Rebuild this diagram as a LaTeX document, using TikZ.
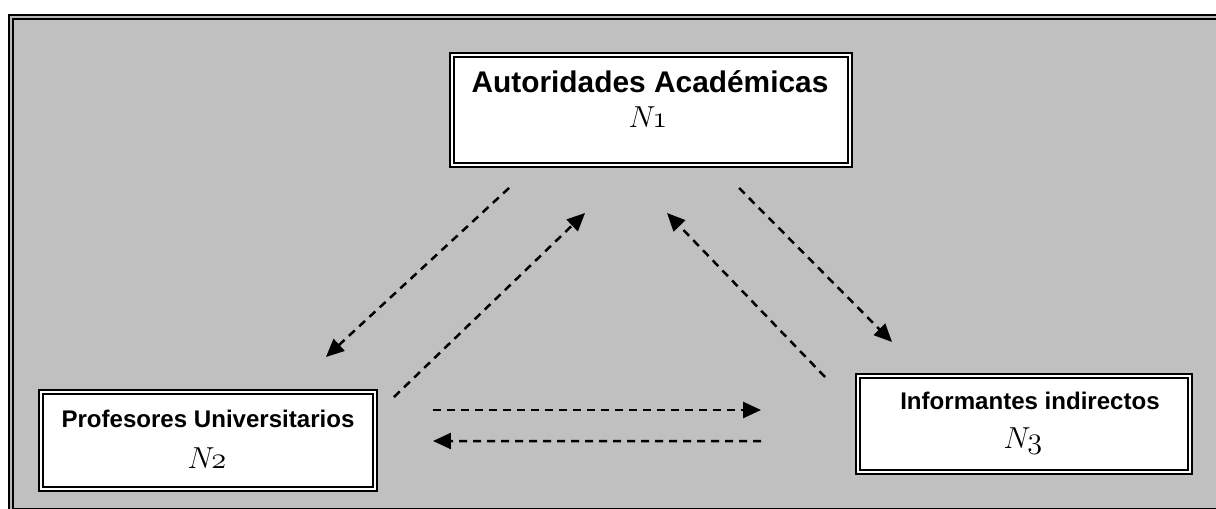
\documentclass[tikz,border=0pt]{standalone}
\usepackage{fontspec}
\setsansfont{Liberation Sans}
\usetikzlibrary{arrows.meta}
\definecolor{panel}{RGB}{192,192,192}

\begin{document}
\begin{tikzpicture}[x=0.02cm,y=-0.02cm]
      \tikzstyle{frame} = [draw=black, line width=0.04cm, double=gray!55, double distance=0.05cm]
      \tikzstyle{box} = [rectangle, draw=black, fill=white, line width=0.04cm, double=white, double distance=0.05cm, inner sep=0pt]
      \tikzstyle{title} = [font=\sffamily\bfseries\fontsize{13.7}{16}\selectfont, anchor=base, inner sep=0pt]
      \tikzstyle{level} = [font=\fontencoding{OML}\fontfamily{cmm}\fontseries{m}\fontshape{it}\fontsize{17.28}{20}\selectfont, anchor=base, inner sep=0pt]
      \tikzstyle{flow} = [line width=0.05cm, dash pattern=on 0.16cm off 0.12cm, -{Triangle[length=0.36cm,width=0.32cm]}]
      \useasboundingbox (0,0) rectangle (1216,509);
      \fill[white] (0,0) rectangle (1216,509);
      % panel
      \draw[frame, fill=panel] (11,17) rectangle (1240,511);
      % boxes
      \node (n1) [box, minimum width=7.96cm, minimum height=2.2cm] at (651,110) {};
      \node (n2) [box, minimum width=6.68cm, minimum height=1.94cm] at (208,440.5) {};
      \node (n3) [box, minimum width=6.64cm, minimum height=1.92cm] at (1024,424) {};
      % texts
      \node (n1title) [title, font=\sffamily\bfseries\fontsize{17}{20}\selectfont] at (650,93) {Autoridades Académicas};
      \node (n1level) [level] at (648,128) {N1};
      \node (n2title) [title] at (208,427) {Profesores Universitarios};
      \node (n2level) [level] at (207,468) {N2};
      \node (n3title) [title] at (1030,410) {Informantes indirectos};
      \node (n3level) [level] at (1023,448) {N3};
      % connectors
      \draw [flow] ([shift={(58,22)}]n1.south west) -- ([shift={(-50,-34)}]n2.north east);
      \draw [flow] ([shift={(18,6)}]n2.north east) -- ([shift={(134,47)}]n1.south west);
      \draw [flow] ([shift={(-32,2)}]n3.north west) -- ([shift={(216,47)}]n1.south west);
      \draw [flow] ([shift={(288,22)}]n1.south west) -- ([shift={(35,-33)}]n3.north west);
      \draw [flow] ([shift={(57,-30.5)}]n2.east) -- ([shift={(-96,-14)}]n3.west);
      \draw [flow] ([shift={(-96,17)}]n3.west) -- ([shift={(57,0.5)}]n2.east);
    \end{tikzpicture}
\end{document}
